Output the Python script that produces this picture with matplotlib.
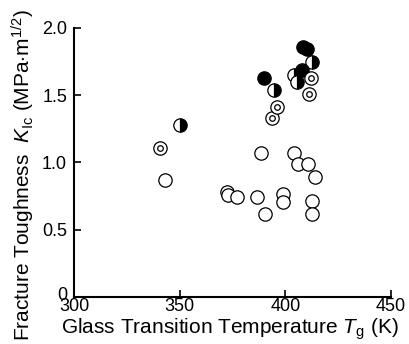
import matplotlib
matplotlib.use("Agg")
import matplotlib.pyplot as plt
import matplotlib.transforms as mtransforms

plt.rcParams['font.family'] = ['Liberation Sans', 'DejaVu Sans']
plt.rcParams['mathtext.fontset'] = 'custom'
plt.rcParams['mathtext.rm'] = 'Liberation Sans'
plt.rcParams['mathtext.it'] = 'Liberation Sans:italic'

# Open circles
open_tg = [343, 372.5, 373, 377, 386.5, 388.5, 390.6, 398.7, 398.7, 404.2, 405.8, 410.5, 414, 412.6, 412.6]
open_k = [0.87, 0.78, 0.76, 0.745, 0.745, 1.067, 0.616, 0.762, 0.707, 1.067, 0.99, 0.985, 0.893, 0.715, 0.616]

# Half-filled circles
half_tg = [350, 394.8, 404, 405.7, 412.7]
half_k = [1.28, 1.54, 1.65, 1.60, 1.745]

# Filled circles
fill_tg = [390, 408.5, 410.4, 408]
fill_k = [1.626, 1.855, 1.845, 1.685]

# Double (dotted) circles
dbl_tg = [340.6, 393.9, 396.2, 411, 412.3]
dbl_k = [1.11, 1.33, 1.41, 1.507, 1.626]

xticks = [300, 350, 400, 450]
yticks = [0, 0.5, 1.0, 1.5, 2.0]
yticklabels = ['0', '0.5', '1.0', '1.5', '2.0']

fig = plt.figure(figsize=(4.09, 3.44), dpi=100)
ax = fig.add_axes([0.181, 0.137, 0.775, 0.782])

ms = 9.6
mew = 0.9
ax.plot(open_tg, open_k, 'o', ms=ms, mfc='white', mec='black', mew=mew, ls='none', zorder=2)
ax.plot(half_tg, half_k, 'o', ms=ms, fillstyle='right', mfc='black', mfcalt='white', mec='black', mew=mew, ls='none', zorder=3)
ax.plot(fill_tg, fill_k, 'o', ms=ms, mfc='black', mec='black', mew=mew, ls='none', zorder=4)
ax.plot(dbl_tg, dbl_k, 'o', ms=ms, mfc='white', mec='black', mew=mew, ls='none', zorder=5)
ax.plot(dbl_tg, dbl_k, 'o', ms=4.0, mfc='white', mec='black', mew=mew, ls='none', zorder=6)

ax.set_xlim(300, 450)
ax.set_ylim(0, 2.0)
ax.set_xticks(xticks)
ax.set_xticklabels([str(t) for t in xticks])
ax.set_yticks(yticks)
ax.set_yticklabels(yticklabels)

for s in ['top', 'right']:
    ax.spines[s].set_visible(False)
for s in ['left', 'bottom']:
    ax.spines[s].set_linewidth(1.5)

ax.tick_params(direction='in', length=5, width=1.2, labelsize=13)
ax.tick_params(axis='x', pad=1)
ax.tick_params(axis='y', pad=5)

# nudge the corner "0" label up slightly, as in the reference
zero_lbl = ax.get_yticklabels()[0]
zero_lbl.set_transform(zero_lbl.get_transform() +
                       mtransforms.ScaledTranslation(0, 3 / 100, fig.dpi_scale_trans))

fig.text(0.562, 0.044, r'Glass Transition Temperature $T_{\rm g}$ (K)', fontsize=15,
         ha='center', va='center')
fig.text(0.056, 0.491, r'Fracture Toughness  $K_{\rm Ic}$ (MPa$\cdot$m$^{1/2}$)', fontsize=15,
         ha='center', va='center', rotation=90)

fig.savefig('out.png', dpi=100)
